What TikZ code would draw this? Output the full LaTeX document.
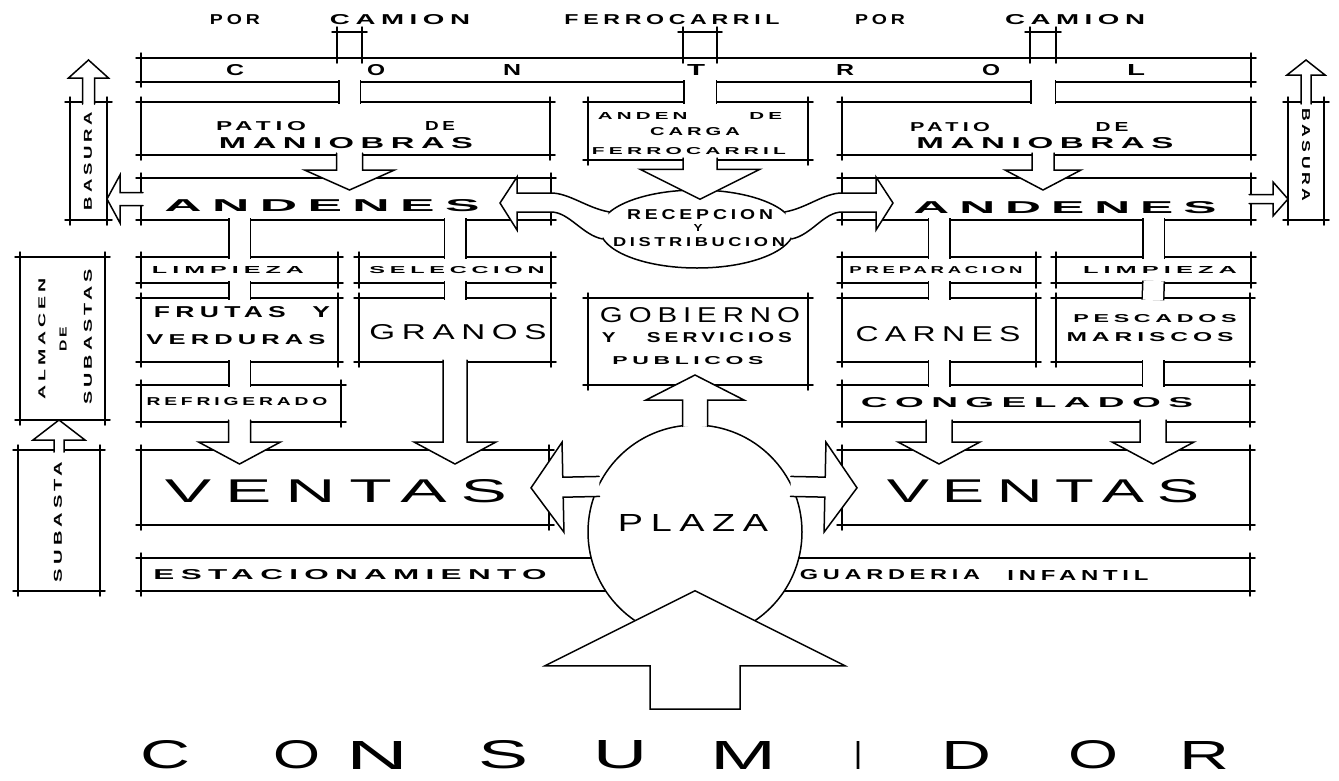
\documentclass[tikz,border=0pt]{standalone}
\usepackage{fontspec}
\usepackage{graphicx}
\usetikzlibrary{calc,fit,shapes.geometric}
\newfontfamily\hand[LetterSpace=20]{Liberation Sans}
\newcommand{\lett}[3]{\resizebox{#1pt}{#2pt}{\hand #3}}
\newcommand{\lettb}[3]{\resizebox{#1pt}{#2pt}{\hand\bfseries #3}}

\tikzset{
  skline/.style={line width=1.5pt, line cap=round},
  box/.style={inner sep=0pt, outer sep=0pt,
    append after command={
      ([xshift=-5pt]\tikzlastnode.north west) edge[skline] ([xshift=5pt]\tikzlastnode.north east)
      ([xshift=-5pt]\tikzlastnode.south west) edge[skline] ([xshift=5pt]\tikzlastnode.south east)
      ([yshift=5pt]\tikzlastnode.north west) edge[skline] ([yshift=-5pt]\tikzlastnode.south west)
      ([yshift=5pt]\tikzlastnode.north east) edge[skline] ([yshift=-5pt]\tikzlastnode.south east)
    }},
  lab/.style={inner sep=0pt},
  pipe/.style={skline, line cap=butt, double distance=#1, shorten <=-2pt, shorten >=-2pt},
  pipe/.default=20pt,
  fat/.style args={#1/#2/#3/#4}{skline, fill=white, to path={
      ($(\tikztotarget)!-#4!(\tikztostart)$) coordinate (fT)
      ($(\tikztostart)!-2pt!(\tikztotarget)$) coordinate (fS)
      ($(fT)!#3!(fS)$) coordinate (fB)
      ($(fS)!#1!90:(fT)$) -- ($(fB)!#1!-90:(fS)$) -- ($(fB)!#2!-90:(fS)$) -- (fT)
      -- ($(fB)!#2!90:(fS)$) -- ($(fB)!#1!90:(fS)$) -- ($(fS)!#1!-90:(fT)$)
    }},
}

\begin{document}
\begin{tikzpicture}[x=1pt,y=-1pt]
  \useasboundingbox (0,0) rectangle (1339,780);

  % arrivals
  \node[lab] (por1) at (235,20) {\lettb{50}{10}{POR}};
  \node[lab] (cam1) at (400,20) {\lettb{140}{10}{CAMION}};
  \node[lab] (ferro) at (672,20) {\lettb{215}{10}{FERROCARRIL}};
  \node[lab] (por2) at (880,20) {\lettb{50}{10}{POR}};
  \node[lab] (cam2) at (1075,20) {\lettb{140}{10}{CAMION}};

  \node[box, fit={(337,32) (362,58)}] (in1) {};
  \node[box, fit={(683,32) (717,58)}] (in2) {};
  \node[box, fit={(1030,32) (1056,58)}] (in3) {};

  \node[box, fit={(141,58) (1251,82)}] (control) {};
  \foreach \l/\x in {C/235,O/376,N/512,T/696,R/845,O/991,L/1136}
    \node[lab] (c\x) at (\x,70) {\lettb{18}{11}{\l}};

  % boxes
  \node[box, fit={(141,102) (550,155)}] (patioL) {};
  \node[box, fit={(588,102) (808,160)}] (andenC) {};
  \node[box, fit={(842,102) (1251,155)}] (patioR) {};
  \node[box, fit={(141,178) (551,220)}] (andL) {};
  \node[box, fit={(842,178) (1251,220)}] (andR) {};
  \node[box, fit={(70,102) (107,220)}] (basL) {};
  \node[box, fit={(1288,102) (1324,220)}] (basR) {};

  \node[box, fit={(141,257) (338,283)}] (limpL) {};
  \node[box, fit={(359,257) (551,283)}] (selec) {};
  \node[box, fit={(842,257) (1036,283)}] (prep) {};
  \node[box, fit={(1056,257) (1251,283)}] (limpR) {};
  \node[box, fit={(141,298) (338,362)}] (frutas) {};
  \node[box, fit={(359,298) (551,362)}] (granos) {};
  \node[box, fit={(588,298) (808,385)}] (gob) {};
  \node[box, fit={(842,298) (1036,362)}] (carnes) {};
  \node[box, fit={(1056,298) (1250,362)}] (pesc) {};
  \node[box, fit={(141,385) (341,422)}] (refrig) {};
  \node[box, fit={(842,385) (1250,422)}] (cong) {};
  \node[box, fit={(20,257) (105,420)}] (alm) {};
  \node[box, fit={(18,450) (100,591)}] (sub) {};
  \node[box, fit={(141,450) (549,525)}] (ventasL) {};
  \node[box, fit={(842,450) (1250,525)}] (ventasR) {};
  \node[box, fit={(141,558) (1250,591)}] (park) {};

  \node[draw, skline, circle, fill=white, minimum size=214pt, inner sep=0pt] (plaza) at (695,532) {};
  \node[draw, skline, ellipse, fill=white, minimum width=194pt, minimum height=78pt, inner sep=0pt] (recep) at (697,229) {};

  % pipes
  \draw[pipe] (in1 |- control.south) -- (in1 |- patioL.north);
  \draw[pipe=31pt] (in2 |- control.south) -- (in2 |- andenC.north);
  \draw[pipe=23pt] (in3 |- control.south) -- (in3 |- patioR.north);
  \foreach \b/\a in {limpL/andL, selec/andL, prep/andR, limpR/andR}
    \draw[pipe] (\b.north |- \a.south) -- (\b.north);
  \foreach \a/\b in {limpL/frutas, selec/granos, prep/carnes, limpR/pesc}
    \draw[pipe] (\a.south) -- (\b.north);
  \draw[pipe] (frutas.south) -- (frutas.south |- refrig.north);
  \draw[pipe] (carnes.south) -- (carnes.south |- cong.north);
  \draw[pipe] (pesc.south) -- (pesc.south |- cong.north);

  % fat arrows
  \draw[fat=13pt/45pt/20pt/12pt] (in1 |- patioL.south) to (in1 |- andL.north);
  \draw[fat=17pt/60pt/30pt/10pt] (in2 |- andenC.south) to (in2 |- recep.north);
  \draw[fat=11pt/38pt/20pt/12pt] (in3 |- patioR.south) to (in3 |- andR.north);
  \draw[fat=6.5pt/24pt/13pt/0pt] (andL.west) to (basL.east |- andL.west);
  \draw[fat=4.5pt/17pt/15pt/0pt] (andR.east) to (basR.west |- andR.east);
  \coordinate (upL) at (88.5,60);
  \coordinate (upR) at (1306,60);
  \draw[fat=6pt/20pt/18pt/0pt] (basL.north) to (upL);
  \draw[fat=5pt/19pt/15pt/0pt] (basR.north) to (upR);
  \draw[fat=5pt/26pt/20pt/0pt] (sub.north) to (sub.north |- alm.south);
  \draw[fat=11pt/41pt/22pt/14pt] (frutas.south |- refrig.south) to (frutas.south |- ventasL.north);
  \draw[fat=12pt/41pt/22pt/14pt] (granos.south) to (granos.south |- ventasL.north);
  \draw[fat=13pt/41pt/22pt/14pt] (carnes.south |- cong.south) to (carnes.south |- ventasR.north);
  \draw[fat=13pt/41pt/22pt/14pt] (pesc.south |- cong.south) to (pesc.south |- ventasR.north);
  \draw[fat=12.5pt/49pt/25pt/10pt] (plaza.north) to (plaza.north |- gob.south);
  \draw[fat=10pt/45pt/32pt/18pt] (plaza.155) to (ventasL.east);
  \draw[fat=10pt/45pt/32pt/15pt] (plaza.25) to (ventasR.west);
  \coordinate (foot) at (695,707);
  \draw[fat=45pt/150pt/75pt/49pt] (foot) to (plaza.south) -- cycle;

  % reception to platforms
  \draw[skline, fill=white] (recep.169) .. controls +(-22,-4) and +(18,0) .. ([yshift=6pt]andL.east)
    -- ++(-34,0) -- ++(0,-16) -- ++(-17,26) -- ++(17,27) -- ++(0,-18) -- ++(34,0)
    .. controls +(18,0) and +(-20,-4) .. (recep.186);
  \draw[skline, fill=white] (recep.11) .. controls +(22,-4) and +(-18,0) .. ([yshift=6pt]andR.west)
    -- ++(34,0) -- ++(0,-16) -- ++(17,26) -- ++(-17,27) -- ++(0,-18) -- ++(-34,0)
    .. controls +(-18,0) and +(20,-4) .. (recep.354);

  % labels
  \node[lab] (tpat1) at (261,126) {\lettb{90}{9}{PATIO}};
  \node[lab] (tde1) at (440,126) {\lettb{30}{9}{DE}};
  \node[lab] (tman1) at (346,143) {\lettb{254}{11}{MANIOBRAS}};
  \node[lab] (tpat2) at (950,127) {\lettb{80}{9}{PATIO}};
  \node[lab] (tde2) at (1112,127) {\lettb{33}{9}{DE}};
  \node[lab] (tman2) at (1045,143) {\lettb{257}{11}{MANIOBRAS}};
  \node[lab] (tand) at (690,116) {\lettb{184}{7}{ANDEN\hspace{3em}DE}};
  \node[lab] (tcar) at (695,132) {\lettb{90}{8}{CARGA}};
  \node[lab] (tfer) at (689,151) {\lettb{194}{7}{FERROCARRIL}};
  \node[lab] (tandL) at (322,206) {\lettb{315}{12}{ANDENES}};
  \node[lab] (tandR) at (1065,208) {\lettb{303}{12}{ANDENES}};
  \node[lab] (tlimpL) at (228,270) {\lettb{152}{7}{LIMPIEZA}};
  \node[lab] (tsel) at (457,270) {\lettb{175}{7}{SELECCION}};
  \node[lab] (tprep) at (936,270) {\lettb{173}{7}{PREPARACION}};
  \node[lab] (tlimpR) at (1160,270) {\lettb{154}{7}{LIMPIEZA}};
  \node[lab] (tfru) at (242,312) {\lettb{176}{11}{FRUTAS\hspace{1em}Y}};
  \node[lab] (tver) at (236,340) {\lettb{179}{10}{VERDURAS}};
  \node[lab] (tgra) at (458,332) {\lett{177}{15}{GRANOS}};
  \node[lab] (tgob) at (700,315) {\lett{200}{15}{GOBIERNO}};
  \node[lab] (tserv) at (697,338) {\lettb{190}{10}{Y\hspace{1.5em}SERVICIOS}};
  \node[lab] (tpub) at (688,361) {\lettb{151}{8}{PUBLICOS}};
  \node[lab] (tcarn) at (938,334) {\lett{165}{15}{CARNES}};
  \node[lab] (tpes) at (1155,319) {\lettb{163}{8}{PESCADOS}};
  \node[lab] (tmar) at (1150,337) {\lettb{167}{9}{MARISCOS}};
  \node[lab] (tref) at (237,402) {\lettb{181}{8}{REFRIGERADO}};
  \node[lab] (tcong) at (1027,403) {\lettb{332}{10}{CONGELADOS}};
  \node[lab] (tvenL) at (336,491) {\lett{342}{23}{VENTAS}};
  \node[lab] (tvenR) at (1043,491) {\lett{312}{23}{VENTAS}};
  \node[lab] (trec) at (700,215) {\lettb{146}{10}{RECEPCION}};
  \node[lab] (ty) at (698,228) {\lettb{9}{7}{Y}};
  \node[lab] (tdis) at (699,242) {\lettb{172}{9}{DISTRIBUCION}};
  \node[lab] (tpla) at (693,523) {\lett{150}{17}{PLAZA}};
  \node[lab] (test) at (350,575) {\lettb{393}{10}{ESTACIONAMIENTO}};
  \node[lab] (tgua) at (890,575) {\lettb{180}{10}{GUARDERIA}};
  \node[lab] (tinf) at (1078,575) {\lettb{141}{10}{INFANTIL}};

  \node[lab, rotate=90] (tbasL) at (88,161) {\lettb{98}{8}{BASURA}};
  \node[lab, rotate=-90] (tbasR) at (1306,155) {\lettb{93}{8}{BASURA}};
  \node[lab, rotate=90] (talm1) at (42,339) {\lettb{121}{7}{ALMACEN}};
  \node[lab, rotate=90] (talm2) at (63,339) {\lettb{25}{7}{DE}};
  \node[lab, rotate=90] (talm3) at (88,337) {\lettb{135}{8}{SUBASTAS}};
  \node[lab, rotate=90] (tsub) at (58,522) {\lettb{120}{8}{SUBASTA}};

  % consumer
  \foreach \l/\x/\w in {C/166/50, O/297/47, N/378/62, S/504/50, U/621/54, M/743/66, I/858/8, D/966/50, O/1093/50, R/1204/50}
    \node[lab] (k\x) at (\x,755) {\lett{\w}{28}{\l}};
\end{tikzpicture}
\end{document}
